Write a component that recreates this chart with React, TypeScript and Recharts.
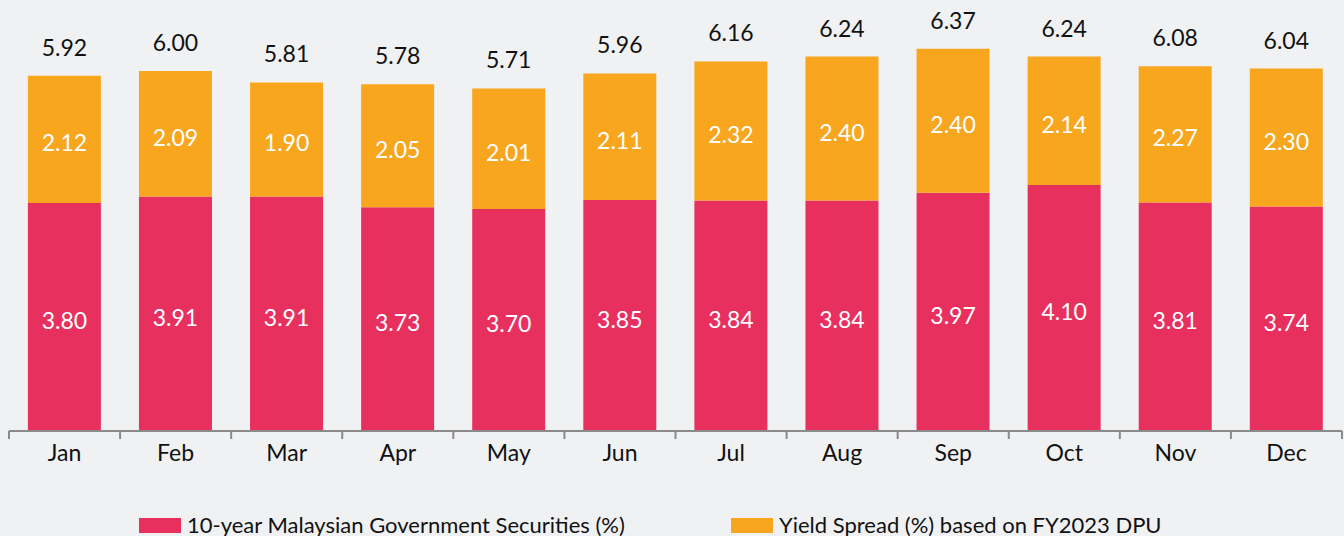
import React from "react";
import { BarChart, Bar, XAxis, YAxis, LabelList, Legend } from "recharts";

const months = ["Jan", "Feb", "Mar", "Apr", "May", "Jun", "Jul", "Aug", "Sep", "Oct", "Nov", "Dec"];
const mgsValues = [3.8, 3.91, 3.91, 3.73, 3.7, 3.85, 3.84, 3.84, 3.97, 4.1, 3.81, 3.74];
const spreadValues = [2.12, 2.09, 1.9, 2.05, 2.01, 2.11, 2.32, 2.4, 2.4, 2.14, 2.27, 2.3];
const totalValues = [5.92, 6.0, 5.81, 5.78, 5.71, 5.96, 6.16, 6.24, 6.37, 6.24, 6.08, 6.04];

const SERIES_MGS = "10-year Malaysian Government Securities (%)";
const SERIES_SPREAD = "Yield Spread (%) based on FY2023 DPU";

const RED = "#E8305F";
const ORANGE = "#F9A61F";
const BG = "#F0F1F3";
const FONT = "Lato, 'Noto Sans', sans-serif";

const W = 1344;
const H = 536;
const LEGEND_H = 26;
const XAXIS_H = 40;
const MARGIN = { top: 11, right: 2, left: 9, bottom: 105 - XAXIS_H - LEGEND_H };
const BAND = (W - MARGIN.left - MARGIN.right) / months.length;

const data = months.map((m, i) => ({
  month: m,
  mgs: mgsValues[i],
  spread: spreadValues[i],
  total: totalValues[i],
}));

const Tick = (props: any) => {
  const { x, y, payload, index } = props;
  const left = x - BAND / 2;
  const right = x + BAND / 2;
  return (
    <g>
      <line x1={left} y1={y} x2={left} y2={y + 8} stroke="#8a8a8a" strokeWidth={2} />
      {index === months.length - 1 && (
        <line x1={right} y1={y} x2={right} y2={y + 8} stroke="#8a8a8a" strokeWidth={2} />
      )}
      <text x={x} y={y + 30} textAnchor="middle" fill="#111" fontSize={23} fontFamily={FONT}>
        {payload.value}
      </text>
    </g>
  );
};

const InsideLabel = (props: any) => {
  const { x, y, width, height, value } = props;
  return (
    <text
      x={x + width / 2}
      y={y + height / 2 + 3}
      textAnchor="middle"
      dominantBaseline="central"
      fill="#fff"
      fontSize={23}
      fontFamily={FONT}
    >
      {Number(value).toFixed(2)}
    </text>
  );
};

const TotalLabel = (props: any) => {
  const { x, y, width, index } = props;
  return (
    <text x={x + width / 2} y={y - 20} textAnchor="middle" fill="#111" fontSize={23} fontFamily={FONT}>
      {totalValues[index].toFixed(2)}
    </text>
  );
};

const LegendContent = () => (
  <div
    style={{
      display: "flex",
      alignItems: "center",
      fontFamily: FONT,
      fontSize: 22,
      lineHeight: `${LEGEND_H}px`,
      height: LEGEND_H,
      color: "#111",
      paddingLeft: 139,
    }}
  >
    <div style={{ display: "flex", alignItems: "center", width: 592 }}>
      <span style={{ display: "inline-block", width: 42, height: 15, background: RED, marginRight: 6 }} />
      <span>{SERIES_MGS}</span>
    </div>
    <div style={{ display: "flex", alignItems: "center" }}>
      <span style={{ display: "inline-block", width: 42, height: 15, background: ORANGE, marginRight: 6 }} />
      <span>{SERIES_SPREAD}</span>
    </div>
  </div>
);

export default function App() {
  return (
    <div style={{ width: W, height: H, background: BG }}>
      <style>{`body{margin:0;background:${BG};}`}</style>
      <BarChart width={W} height={H} data={data} margin={MARGIN} barCategoryGap="17%">
        <XAxis
          dataKey="month"
          tickLine={false}
          tickSize={0}
          tickMargin={0}
          axisLine={{ stroke: "#8a8a8a", strokeWidth: 2 }}
          tick={<Tick />}
          interval={0}
          height={XAXIS_H}
        />
        <YAxis hide domain={[0, 7]} />
        <Legend
          content={<LegendContent />}
          wrapperStyle={{ position: "absolute", left: 0, top: 512, width: W, height: LEGEND_H }}
        />
        <Bar dataKey="mgs" name={SERIES_MGS} stackId="a" fill={RED} isAnimationActive={false}>
          <LabelList dataKey="mgs" content={<InsideLabel />} />
        </Bar>
        <Bar dataKey="spread" name={SERIES_SPREAD} stackId="a" fill={ORANGE} isAnimationActive={false}>
          <LabelList dataKey="spread" content={<InsideLabel />} />
          <LabelList dataKey="total" content={<TotalLabel />} />
        </Bar>
      </BarChart>
    </div>
  );
}
